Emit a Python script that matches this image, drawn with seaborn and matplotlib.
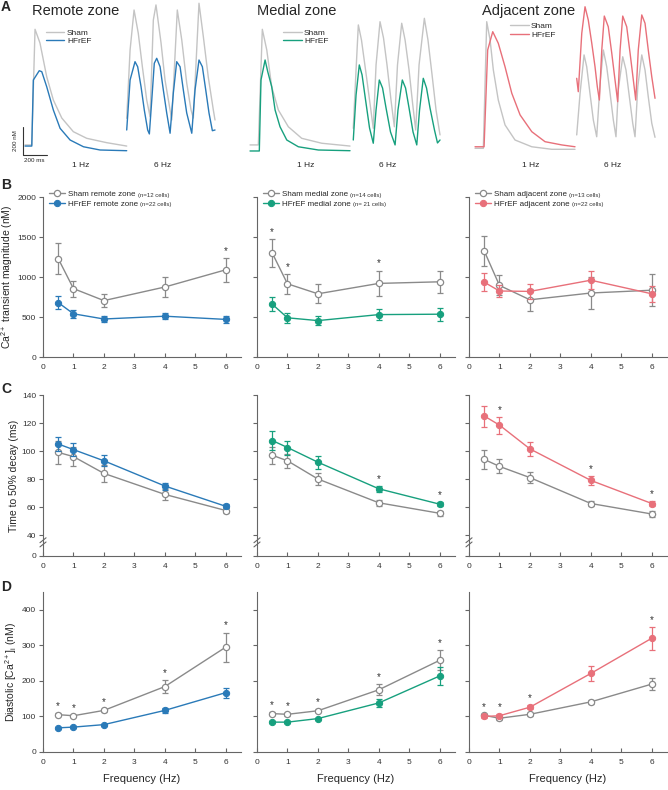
"Recreate the regional Ca2+ transient figure (traces + frequency dependence)"
import numpy as np
import pandas as pd
import matplotlib
matplotlib.use("Agg")
from matplotlib import pyplot as plt
from matplotlib.lines import Line2D
import seaborn as sns

# ---------------- panel B-D data (mean, sem) ----------------
freq = [0.5, 1, 2, 4, 6]

remote_mag_sham = [1230, 855, 705, 875, 1090]
remote_mag_sham_sem = [190, 100, 80, 130, 150]
remote_mag_hf = [680, 540, 475, 510, 470]
remote_mag_hf_sem = [80, 50, 40, 40, 45]
medial_mag_sham = [1300, 915, 790, 920, 940]
medial_mag_sham_sem = [170, 125, 120, 160, 140]
medial_mag_hf = [660, 490, 455, 530, 535]
medial_mag_hf_sem = [90, 60, 55, 70, 80]
adjacent_mag_sham = [1325, 895, 715, 800, 835]
adjacent_mag_sham_sem = [190, 125, 140, 200, 200]
adjacent_mag_hf = [935, 825, 820, 960, 790]
adjacent_mag_hf_sem = [110, 75, 90, 115, 100]

remote_dec_sham = [99, 96, 84, 69, 57.5]
remote_dec_sham_sem = [8, 7, 6, 4, 2]
remote_dec_hf = [105, 101, 93, 75, 60.5]
remote_dec_hf_sem = [5, 4.5, 4, 2.5, 1.5]
medial_dec_sham = [97, 93, 80, 63, 55.5]
medial_dec_sham_sem = [6, 5, 4, 2, 2]
medial_dec_hf = [107.5, 102.5, 92, 73, 62]
medial_dec_hf_sem = [7, 5, 4.5, 2, 1.5]
adjacent_dec_sham = [94, 89, 81, 62.5, 55]
adjacent_dec_sham_sem = [6.5, 5, 4, 2, 2]
adjacent_dec_hf = [125, 118.5, 101.5, 79, 62.5]
adjacent_dec_hf_sem = [7.5, 6, 5, 3, 1.5]

remote_dia_sham = [105, 102, 117, 184, 295]
remote_dia_sham_sem = [4, 3, 4, 19, 41]
remote_dia_hf = [68, 70, 77, 117, 167]
remote_dia_hf_sem = [3, 3, 3, 6, 14]
medial_dia_sham = [108, 106, 116, 175, 258]
medial_dia_sham_sem = [4, 4, 4, 15, 28]
medial_dia_hf = [84, 84, 94, 138, 214]
medial_dia_hf_sem = [3, 3, 3, 12, 25]
adjacent_dia_sham = [103, 95, 106, 141, 191]
adjacent_dia_sham_sem = [4, 4, 4, 6, 17]
adjacent_dia_hf = [100, 102, 126, 221, 320]
adjacent_dia_hf_sem = [4, 4, 5, 20, 32]

# significance (*) per frequency
remote_mag_sig = [0, 0, 0, 0, 1]
medial_mag_sig = [1, 1, 0, 1, 0]
adjacent_mag_sig = [0, 0, 0, 0, 0]
remote_dec_sig = [0, 0, 0, 0, 0]
medial_dec_sig = [0, 0, 0, 1, 1]
adjacent_dec_sig = [0, 1, 0, 1, 1]
remote_dia_sig = [1, 1, 1, 1, 1]
medial_dia_sig = [1, 1, 1, 1, 1]
adjacent_dia_sig = [1, 1, 1, 0, 1]

zone_names = ["remote", "medial", "adjacent"]
zone_titles = ["Remote zone", "Medial zone", "Adjacent zone"]
zone_colors = ["#2a7ab8", "#17a07e", "#e8707a"]
n_sham = ["(n=12 cells)", "(n=14 cells)", "(n=13 cells)"]
n_hf = ["(n=22 cells)", "(n= 21 cells)", "(n=22 cells)"]

# ---------------- panel A traces (ms, nM) ----------------
remote_1hz_sham_t = [0, 56, 83, 124, 180, 235, 305, 401, 512, 678, 844]
remote_1hz_sham = [36, 36, 857, 760, 520, 355, 227, 130, 83, 52, 28]
remote_1hz_hf_t = [0, 56, 69, 118, 139, 180, 235, 291, 374, 485, 623, 844]
remote_1hz_hf = [28, 28, 497, 563, 556, 449, 284, 154, 71, 23, 0, -5]
remote_6hz_sham_t = [844, 872, 905, 940, 974, 1010, 1038, 1065, 1087, 1129, 1162, 1204,
                     1218, 1264, 1301, 1342, 1378, 1397, 1444, 1480, 1521, 1563, 1577]
remote_6hz_sham = [225, 710, 994, 829, 591, 355, 236, 923, 1030, 760, 497, 284,
                   213, 994, 781, 476, 284, 227, 1042, 805, 518, 284, 213]
remote_6hz_hf_t = [844, 872, 913, 935, 963, 990, 1018, 1032, 1052, 1073, 1093, 1121, 1148, 1176,
                   1204, 1231, 1259, 1287, 1314, 1342, 1384, 1411, 1444, 1472, 1500, 1527,
                   1555, 1577]
remote_6hz_hf = [142, 497, 627, 591, 449, 284, 142, 114, 355, 616, 651, 591, 426, 263,
                 119, 405, 627, 591, 426, 263, 119, 426, 639, 591, 426, 263,
                 137, 142]

medial_1hz_sham_t = [0, 69, 102, 139, 180, 235, 318, 429, 595, 830]
medial_1hz_sham = [36, 36, 857, 710, 449, 284, 165, 83, 48, 28]
medial_1hz_hf_t = [0, 77, 91, 125, 147, 180, 208, 249, 305, 401, 567, 830]
medial_1hz_hf = [-7, -7, 497, 639, 556, 449, 284, 165, 71, 23, 0, -5]
medial_6hz_sham_t = [857, 880, 899, 925, 959, 992, 1023, 1046, 1079, 1108, 1137, 1170, 1198,
                     1224, 1259, 1287, 1320, 1349, 1375, 1403, 1447, 1477, 1511, 1544, 1577]
medial_6hz_sham = [154, 568, 888, 781, 568, 355, 154, 604, 911, 795, 604, 355, 165,
                   604, 900, 781, 568, 334, 142, 604, 935, 781, 533, 284, 107]
medial_6hz_hf_t = [857, 880, 907, 930, 959, 992, 1023, 1046, 1073, 1100, 1129, 1166, 1204,
                   1228, 1264, 1291, 1320, 1353, 1384, 1407, 1438, 1465, 1494, 1531, 1556, 1577]
medial_6hz_hf = [71, 390, 604, 533, 355, 156, 48, 284, 497, 440, 298, 128, 36,
                 284, 497, 440, 298, 128, 36, 284, 509, 440, 298, 142, 50, 71]

adjacent_1hz_sham_t = [0, 69, 97, 125, 152, 193, 249, 332, 471, 637, 830]
adjacent_1hz_sham = [12, 12, 911, 781, 568, 355, 178, 71, 23, 5, 5]
adjacent_1hz_hf_t = [0, 75, 105, 147, 193, 249, 305, 374, 471, 581, 720, 830]
adjacent_1hz_hf = [23, 23, 710, 840, 758, 591, 403, 249, 130, 59, 36, 23]
adjacent_6hz_sham_t = [844, 872, 905, 927, 954, 982, 1010, 1038, 1065, 1093, 1121, 1148, 1170,
                       1189, 1226, 1253, 1281, 1309, 1328, 1351, 1384, 1411, 1438, 1467, 1494]
adjacent_6hz_sham = [107, 403, 675, 591, 403, 213, 94, 474, 710, 591, 403, 213, 94,
                     426, 662, 568, 378, 190, 94, 449, 675, 568, 378, 190, 90]
adjacent_6hz_hf_t = [844, 857, 886, 913, 940, 969, 996, 1015, 1032, 1052, 1073, 1106, 1135,
                     1162, 1184, 1204, 1226, 1259, 1287, 1314, 1334, 1355, 1384, 1411, 1438,
                     1467, 1494]
adjacent_6hz_hf = [509, 414, 829, 1017, 923, 758, 591, 449, 355, 710, 951, 875, 687,
                   497, 343, 710, 951, 875, 687, 497, 355, 710, 959, 900, 710,
                   520, 367]

traces = {
    "remote": [(remote_1hz_sham_t, remote_1hz_sham), (remote_1hz_hf_t, remote_1hz_hf),
               (remote_6hz_sham_t, remote_6hz_sham), (remote_6hz_hf_t, remote_6hz_hf)],
    "medial": [(medial_1hz_sham_t, medial_1hz_sham), (medial_1hz_hf_t, medial_1hz_hf),
               (medial_6hz_sham_t, medial_6hz_sham), (medial_6hz_hf_t, medial_6hz_hf)],
    "adjacent": [(adjacent_1hz_sham_t, adjacent_1hz_sham), (adjacent_1hz_hf_t, adjacent_1hz_hf),
                 (adjacent_6hz_sham_t, adjacent_6hz_sham), (adjacent_6hz_hf_t, adjacent_6hz_hf)],
}

# ---------------- style ----------------
sns.set_theme(style="ticks")
plt.rcParams['font.family'] = ['Liberation Sans', 'DejaVu Sans']
plt.rcParams['mathtext.default'] = 'regular'
plt.rcParams['axes.edgecolor'] = '#666666'
plt.rcParams['axes.linewidth'] = 0.8
plt.rcParams['xtick.color'] = '#666666'
plt.rcParams['ytick.color'] = '#666666'
plt.rcParams['xtick.labelcolor'] = '#333333'
plt.rcParams['ytick.labelcolor'] = '#333333'

SHAM = '#8a8a8a'
TRACE_SHAM = '#c4c4c4'
W, H = 668, 790

fig = plt.figure(figsize=(W / 100, H / 100), dpi=100)


def px_axes(x0, y0, w, h):
    return fig.add_axes([x0 / W, 1 - (y0 + h) / H, w / W, h / H])


# ---------------- panel A ----------------
a_left = [25, 250, 475]
a_leg = [(0.14, 0.83), (0.2, 0.83), (0.21, 0.87)]
for i, zone in enumerate(zone_names):
    ax = px_axes(a_left[i] - 7.2, 0, 202.4, 170)
    ax.set_xlim(-60, 1620)
    ax.set_ylim(-142, 1065)
    ax.axis('off')
    (s1t, s1), (h1t, h1), (s6t, s6), (h6t, h6) = traces[zone]
    ax.plot(s1t, s1, color=TRACE_SHAM, lw=1)
    ax.plot(s6t, s6, color=TRACE_SHAM, lw=1)
    ax.plot(h1t, h1, color=zone_colors[i], lw=1)
    ax.plot(h6t, h6, color=zone_colors[i], lw=1)
    ax.text(60, 985, zone_titles[i], fontsize=10.5, ha='left', va='center')
    ax.text(460, -107, "1 Hz", fontsize=6, ha='center', va='center')
    ax.text(1140, -107, "6 Hz", fontsize=6, ha='center', va='center')
    handles = [Line2D([], [], color=TRACE_SHAM, lw=1), Line2D([], [], color=zone_colors[i], lw=1)]
    ax.legend(handles, ["Sham", "HFrEF"], loc='upper left', bbox_to_anchor=a_leg[i],
              frameon=False, fontsize=6, handlelength=2.2, handletextpad=0.3,
              labelspacing=0.1, borderpad=0, borderaxespad=0)
    if i == 0:
        # scale bar 200 nM / 200 ms
        ax.plot([-19, -19, 181], [165, -36, -36], color='#333333', lw=0.8, clip_on=False)
        ax.text(-75, 65, "200 nM", fontsize=4.5, rotation=90, ha='center', va='center')
        ax.text(80, -75, "200 ms", fontsize=4.5, ha='center', va='center')

# ---------------- panels B-D ----------------
col_left = [43, 257, 469]
rows = [
    ("mag", 197, 357, (0, 2000), [0, 500, 1000, 1500, 2000], None,
     r"Ca$^{2+}$ transient magnitude (nM)", -0.14),
    ("dec", 395, 556, (25, 140), [25, 40, 60, 80, 100, 120, 140],
     ["0", "40", "60", "80", "100", "120", "140"], "Time to 50% decay (ms)", -0.12),
    ("dia", 592, 752, (0, 450), [0, 100, 200, 300, 400], None,
     r"Diastolic [Ca$^{2+}$]$_i$ (nM)", -0.12),
]

g = globals()
legends = []
for r, (key, top, bot, ylim, yticks, ylabels, ylab, labx) in enumerate(rows):
    for i, zone in enumerate(zone_names):
        ax = px_axes(col_left[i], top, 198, bot - top)
        color = zone_colors[i]
        sham = np.array(g[f"{zone}_{key}_sham"])
        sham_sem = np.array(g[f"{zone}_{key}_sham_sem"])
        hf = np.array(g[f"{zone}_{key}_hf"])
        hf_sem = np.array(g[f"{zone}_{key}_hf_sem"])
        sig = g[f"{zone}_{key}_sig"]

        ax.errorbar(freq, sham, yerr=sham_sem, fmt='none', ecolor=SHAM,
                    elinewidth=0.9, capsize=2.5, capthick=0.9)
        sns.lineplot(x=freq, y=sham, ax=ax, color=SHAM, lw=1, marker='o',
                     markersize=4.5, markerfacecolor='white', markeredgecolor=SHAM,
                     markeredgewidth=0.9, label=f"Sham {zone} zone")
        ax.errorbar(freq, hf, yerr=hf_sem, fmt='none', ecolor=color,
                    elinewidth=0.9, capsize=2.5, capthick=0.9)
        sns.lineplot(x=freq, y=hf, ax=ax, color=color, lw=1, marker='o',
                     markersize=4.5, markerfacecolor=color, markeredgecolor=color,
                     label=f"HFrEF {zone} zone")

        for f, s, se, h, he, flag in zip(freq, sham, sham_sem, hf, hf_sem, sig):
            if flag:
                ax.annotate("*", xy=(f, max(s + se, h + he)), xytext=(0, 1.5),
                            textcoords='offset points', ha='center', va='bottom',
                            fontsize=7, color='#333333')

        ax.set_xlim(0, 6.5)
        ax.set_ylim(*ylim)
        ax.set_xticks(range(7))
        ax.set_yticks(yticks)
        if i == 0:
            if ylabels:
                ax.set_yticklabels(ylabels)
            ax.set_ylabel(ylab, fontsize=7.5)
            ax.yaxis.set_label_coords(labx, 0.5)
        else:
            ax.set_yticklabels([])
            ax.set_ylabel("")
        ax.set_xlabel("Frequency (Hz)" if r == 2 else "", fontsize=8)
        ax.xaxis.set_label_coords(0.5, -0.14)
        ax.tick_params(axis='y', direction='out', length=3, width=0.8, pad=2, labelsize=6)
        ax.tick_params(axis='x', direction='in', length=3, width=0.8, pad=5, labelsize=6)
        sns.despine(ax=ax)

        if key == "dec":
            # axis break marks
            for y0 in (31.5, 34.5):
                ax.plot([-0.1, 0.1], [y0, y0 + 3.5], color='#666666', lw=0.8, clip_on=False)

        if r == 0:
            leg = ax.legend(loc='upper left', bbox_to_anchor=(0.03, 1.04), frameon=False,
                            fontsize=5.8, handlelength=2.0, handletextpad=0.4,
                            labelspacing=0.25, borderpad=0, borderaxespad=0)
            legends.append((leg, [n_sham[i], n_hf[i]]))
        else:
            ax.get_legend().remove()

# small "(n=.. cells)" after each legend entry
fig.canvas.draw()
renderer = fig.canvas.get_renderer()
for leg, extras in legends:
    for txt, extra in zip(leg.get_texts(), extras):
        bb = txt.get_window_extent(renderer)
        fig.text(bb.x1 / fig.bbox.width + 2 / W, bb.y0 / fig.bbox.height + 0.6 / H, extra,
                 fontsize=4.3, ha='left', va='bottom', color='#333333')

# panel letters
for letter, y in zip("ABCD", [7, 185, 389, 587]):
    fig.text(6 / W, 1 - y / H, letter, fontsize=10, fontweight='bold', ha='center', va='center')

fig.savefig("out.png", dpi=100)
